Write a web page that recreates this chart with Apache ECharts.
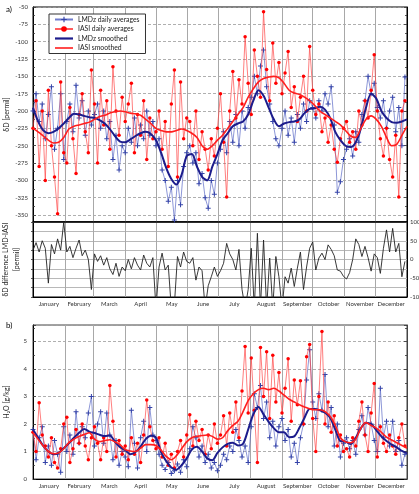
<!DOCTYPE html>
<html><head><meta charset="utf-8">
<script src="https://cdn.jsdelivr.net/npm/echarts@6/dist/echarts.min.js"></script>
<style>html,body{margin:0;padding:0;background:#fff}#c{width:419px;height:494px}</style>
</head><body><div id="c"></div>
<script>
const months = ['January','February','March','April','May','June','July','August','September','October','November','December'];
const monthStarts = [0,31,59,90,120,151,181,212,243,273,304,334,365];
const DAILY_STEP = 3;   // days between daily samples
const SMOOTH_STEP = 5;  // days between smoothed samples

const lmdzDailyA = [
 -200,-175,-215,-190,-240,-205,-165,-255,-225,-175,-270,
 -215,-190,-230,-163,-210,-185,-235,-200,-220,
 -205,-190,-225,-200,-240,-215,-270,-235,-285,-250,
 -260,-225,-245,-210,-250,-220,-240,-200,-235,-215,
 -250,-240,-285,-300,-330,-310,-357,-300,-335,-280,-260,
 -250,-275,-260,-305,-290,-325,-340,-300,-320,-275,
 -255,-230,-260,-215,-245,-205,-250,-200,-225,-195,
 -180,-150,-175,-135,-112,-165,-190,-215,-240,-250,
 -225,-200,-235,-210,-245,-205,-225,-190,-215,-185,
 -195,-210,-185,-200,-175,-190,-165,-220,-317,-302,-270,
 -255,-240,-265,-230,-245,-205,-185,-150,-175,-160,
 -195,-210,-185,-225,-200,-180,-230,-195,-250,-151];
const iasiDailyA = [
 -225,-185,-280,-200,-300,-170,-250,-295,-348,-158,-260,
 -275,-195,-240,-290,-205,-175,-230,-260,-141,
 -190,-275,-170,-220,-185,-255,-136,-200,-235,-180,
 -215,-190,-160,-260,-205,-235,-185,-270,-210,-240,
 -230,-200,-255,-215,-280,-190,-141,-295,-158,-240,-210,
 -215,-250,-200,-270,-230,-255,-285,-240,-265,-225,
 -175,-245,-324,-200,-143,-210,-155,-190,-93,-160,
 -205,-112,-150,-180,-57,-140,-185,-102,-160,-130,
 -175,-145,-114,-195,-165,-215,-180,-150,-200,-107,
 -170,-205,-190,-230,-210,-245,-220,-255,-274,-240,-225,
 -215,-245,-230,-255,-200,-220,-185,-210,-170,-119,
 -200,-240,-265,-225,-270,-295,-235,-324,-200,-185];
const lmdzSmoothA = [
 -195,-215,-228,-232,-230,-225,-218,-210,-204,-205,-207,-209,-210,-213,-218,-226,-236,-244,-245,-241,
 -236,-232,-230,-233,-242,-260,-282,-298,-306,-292,-265,-262,-280,-295,-300,-280,-262,-242,-232,-222,
 -218,-215,-205,-185,-170,-178,-195,-212,-222,-218,-216,-215,-212,-203,-197,-196,-194,-198,-210,-230,
 -242,-250,-252,-245,-225,-195,-175,-182,-200,-210,-216,-217,-215,-212];
const iasiSmoothA = [
 -225,-230,-236,-242,-246,-245,-238,-226,-222,-220,-218,-216,-212,-208,-206,-203,-201,-200,-201,-203,
 -204,-206,-212,-218,-225,-228,-230,-230,-228,-226,-228,-232,-238,-250,-255,-250,-242,-235,-225,-215,
 -205,-195,-180,-168,-158,-153,-151,-150,-152,-160,-170,-174,-176,-180,-185,-192,-200,-205,-210,-215,
 -220,-228,-236,-238,-225,-212,-207,-212,-222,-238,-250,-248,-235,-222];
const diffA = [
 25,45,20,50,30,-63,40,15,55,25,100,
 20,35,5,30,52,10,25,0,-80,
 15,-5,10,-15,5,-25,-40,-10,-45,-20,
 -30,0,-25,5,-15,-28,12,-10,-20,5,
 -130,-20,17,-28,-15,-130,-120,8,-20,20,-5,
 -10,5,-55,-20,-30,-130,-70,-46,-20,-45,
 -30,-10,43,15,0,-28,27,-80,-130,-80,
 30,-130,70,-130,52,-130,4,-130,8,-46,
 -130,-46,-63,-23,-72,-23,20,-80,-20,30,
 47,-28,4,17,0,39,27,10,-28,-31,-45,
 -52,-35,0,55,40,8,35,5,-31,15,
 5,-37,30,79,20,83,20,43,-46,-5];
const lmdzDailyB = [
 1.8,0.7,1.5,1.9,0.6,1.2,0.5,1.4,0.9,0.25,1.9,
 1.0,1.6,0.9,2.45,1.3,1.9,1.5,2.4,3.0,
 1.2,2.0,2.45,1.3,2.4,1.6,0.7,1.4,0.5,1.0,
 0.8,0.45,2.5,1.3,0.4,1.5,2.1,1.0,2.6,1.6,
 1.4,0.9,0.5,0.35,0.6,0.2,0.3,0.55,0.25,0.7,0.45,
 1.1,1.9,1.5,0.8,1.2,0.6,0.9,0.4,0.6,0.3,
 0.5,0.9,0.7,1.2,1.0,1.8,1.4,0.8,1.2,0.6,
 1.9,3.1,2.6,3.4,2.2,2.8,1.5,2.1,1.2,1.9,
 2.2,1.4,1.8,0.8,1.3,0.6,1.5,2.0,3.6,4.7,
 2.8,2.2,3.1,2.5,3.8,1.9,2.6,1.2,2.0,0.8,1.3,
 1.5,1.1,1.4,0.9,1.8,2.3,1.6,2.6,2.0,1.4,
 1.0,3.3,1.5,2.1,1.2,2.1,1.0,1.4,0.5,0.9];
const iasiDailyB = [
 1.7,1.0,2.77,1.6,1.2,0.8,1.5,0.6,0.4,1.1,2.0,
 2.25,0.6,1.1,1.8,1.3,2.0,1.2,0.7,1.5,
 1.9,1.3,0.7,1.5,1.0,3.4,2.1,0.8,1.4,0.9,
 1.2,0.7,1.5,0.9,1.3,0.6,1.6,2.87,1.9,1.4,
 1.1,1.5,0.8,1.3,0.5,0.9,0.4,1.0,1.4,0.8,1.6,
 2.34,1.2,2.1,1.4,1.8,0.9,1.6,1.1,2.0,1.3,
 1.6,2.3,1.2,2.4,1.7,2.8,1.5,3.2,4.82,2.4,
 4.4,2.5,0.6,4.78,3.0,4.63,2.2,4.5,2.8,3.87,
 2.4,3.3,4.37,2.1,3.6,2.7,3.57,2.0,4.45,4.89,
 2.2,1.0,3.0,5.36,2.0,2.8,1.7,2.3,1.2,1.6,1.0,
 1.1,0.8,1.5,1.2,2.1,2.8,1.6,1.0,2.4,3.47,
 0.8,1.9,1.3,1.0,1.6,1.2,0.9,1.5,2.0,1.2];
const lmdzSmoothB = [
 1.8,1.5,1.2,1.0,0.9,0.95,1.12,1.3,1.5,1.68,1.82,1.72,1.67,1.61,1.56,1.58,1.35,1.16,1.05,0.9,
 0.98,1.18,1.45,1.57,1.5,0.98,0.65,0.42,0.34,0.5,0.75,1.07,1.17,1.0,0.75,0.68,0.95,1.15,1.28,1.32,
 1.22,1.28,1.8,2.35,2.62,2.35,2.08,1.85,1.7,1.7,1.52,1.55,1.86,2.23,2.55,2.55,2.5,2.41,2.23,1.8,
 1.38,1.36,1.27,1.5,1.85,2.05,2.0,1.78,1.55,1.38,1.25,1.15,1.02,0.93];
const iasiSmoothB = [
 1.68,1.45,1.2,1.0,0.92,0.95,1.1,1.32,1.45,1.55,1.62,1.68,1.45,1.36,1.4,1.43,1.35,1.25,1.07,1.02,
 1.0,1.12,1.25,1.25,1.22,1.05,0.82,0.7,0.85,1.1,1.35,1.5,1.55,1.58,1.6,1.55,1.45,1.5,1.75,1.95,
 2.1,2.45,2.85,3.1,3.25,3.3,3.25,3.3,3.2,3.05,2.9,2.8,2.7,2.62,2.55,2.52,2.52,2.45,2.28,1.95,
 1.5,1.35,1.32,1.45,1.85,2.05,1.95,1.85,1.7,1.52,1.42,1.32,1.22,1.12];

const mids = monthStarts.slice(0, 12).map((s, i) => (s + monthStarts[i + 1]) / 2);
const pairs = (arr, step) => arr.map((v, i) => [i * step, v]);
const FONT = 'Lato';
const plus = 'path://M4,0H6V4H10V6H6V10H4V6H0V4H4Z';

function xAx(gi, labels, lineW) {
  return {
    type: 'value', gridIndex: gi, min: 0, max: 365,
    axisLine: { show: true, onZero: false, lineStyle: { color: '#000', width: lineW } },
    axisTick: { show: false, customValues: monthStarts },
    splitLine: { show: true, lineStyle: { color: '#a8a8a8', width: 1 } },
    axisLabel: { show: labels, customValues: mids, fontSize: 6, color: '#333', margin: 4, fontFamily: FONT,
      formatter: v => months[mids.indexOf(v)] || '' }
  };
}
const tickStyle = { show: true, inside: true, length: 3, lineStyle: { color: '#333', width: 0.8 } };
const minorStyle = { show: true, splitNumber: 2, length: 2, lineStyle: { color: '#333', width: 0.8 } };
const gridBase = { left: 33, right: 12, show: true, borderWidth: 1, containLabel: false, outerBoundsMode: 'none' };

const option = {
  animation: false,
  backgroundColor: '#fff',
  textStyle: { fontFamily: FONT },
  title: [
    { text: 'a)', left: 1, top: 0, textStyle: { fontSize: 8, fontWeight: 'normal', color: '#000', fontFamily: FONT } },
    { text: 'b)', left: 1, top: 316, textStyle: { fontSize: 8, fontWeight: 'normal', color: '#000', fontFamily: FONT } }
  ],
  legend: {
    data: [
      { name: 'LMDz daily averages' },
      { name: 'IASI daily averages' },
      { name: 'LMDz smoothed', icon: 'path://M0,0H18V2.2H0Z', itemStyle: { color: '#1c1c8c' } },
      { name: 'IASI smoothed', icon: 'path://M0,0H18V1.6H0Z', itemStyle: { color: '#ff1e1e' } }
    ],
    left: 49, top: 14, orient: 'vertical', itemWidth: 18, itemHeight: 7, itemGap: 2.5,
    padding: [2, 6, 2, 5], borderColor: '#333', borderWidth: 1, backgroundColor: '#fff',
    textStyle: { fontSize: 6.8, color: '#222', fontFamily: FONT }
  },
  grid: [
    Object.assign({}, gridBase, { top: 7, height: 215, borderColor: '#000' }),
    Object.assign({}, gridBase, { top: 222, height: 75, borderColor: '#000' }),
    Object.assign({}, gridBase, { top: 325, height: 154, borderColor: '#444' })
  ],
  xAxis: [xAx(0, false, 1.5), xAx(1, true, 1), xAx(2, true, 1)],
  yAxis: [
    { type: 'value', gridIndex: 0, min: -360, max: -50, minInterval: 25, maxInterval: 25, splitNumber: 12,
      name: 'δD [permil]', nameLocation: 'middle', nameGap: 23, nameMoveOverlap: false,
      nameTextStyle: { fontSize: 7, color: '#222', fontFamily: FONT },
      axisLine: { show: true, lineStyle: { color: '#000' } },
      axisTick: tickStyle, minorTick: minorStyle,
      axisLabel: { fontSize: 6, color: '#333', margin: 5, showMinLabel: false, fontFamily: FONT },
      splitLine: { show: true, lineStyle: { color: '#9a9a9a', type: [3, 2], width: 0.8 } } },
    { type: 'value', gridIndex: 0, position: 'right', min: -360, max: -50, minInterval: 25, maxInterval: 25, splitNumber: 12,
      axisLine: { show: true, lineStyle: { color: '#000' } }, axisTick: tickStyle, minorTick: minorStyle,
      axisLabel: { show: false }, splitLine: { show: false } },
    { type: 'value', gridIndex: 1, min: -100, max: 100, interval: 25,
      name: 'δD difference LMD-IASI\n[permil]', nameLocation: 'middle', nameGap: 11, nameMoveOverlap: false,
      nameTextStyle: { fontSize: 7, color: '#222', lineHeight: 11, fontFamily: FONT },
      axisLine: { show: true, lineStyle: { color: '#000' } },
      axisTick: { show: true, length: 2, lineStyle: { color: '#333', width: 0.8 } },
      axisLabel: { show: false }, splitLine: { show: false } },
    { type: 'value', gridIndex: 1, position: 'right', min: -100, max: 100, interval: 25,
      axisLine: { show: true, lineStyle: { color: '#000' } }, axisTick: { show: false },
      axisLabel: { fontSize: 6, color: '#333', margin: 3, fontFamily: FONT,
        formatter: v => (v % 50 === 0 ? String(v) : '') },
      splitLine: { show: true, lineStyle: { color: '#b8b8b8', width: 1 } } },
    { type: 'value', gridIndex: 2, min: 0, max: 5.6, interval: 1,
      name: 'H₂O [g/kg]', nameLocation: 'middle', nameGap: 23, nameMoveOverlap: false,
      nameTextStyle: { fontSize: 7, color: '#222', fontFamily: FONT },
      axisLine: { show: true, lineStyle: { color: '#000' } },
      axisTick: tickStyle, minorTick: minorStyle,
      axisLabel: { fontSize: 6, color: '#333', margin: 6, showMaxLabel: false, fontFamily: FONT },
      splitLine: { show: true, lineStyle: { color: '#9a9a9a', type: [3, 2], width: 0.8 } } },
    { type: 'value', gridIndex: 2, position: 'right', min: 0, max: 5.6, interval: 1,
      axisLine: { show: true, lineStyle: { color: '#444' } }, axisTick: tickStyle, minorTick: minorStyle,
      axisLabel: { show: false }, splitLine: { show: false } }
  ],
  series: []
};

function panelSeries(xi, yi, ld, id, ls, is) {
  return [
    { name: 'LMDz daily averages', type: 'line', xAxisIndex: xi, yAxisIndex: yi, data: pairs(ld, DAILY_STEP),
      symbol: plus, symbolSize: 5, lineStyle: { color: '#4b5bc0', width: 0.8, opacity: 0.8 },
      itemStyle: { color: '#3443a8' }, z: 2 },
    { name: 'IASI daily averages', type: 'line', xAxisIndex: xi, yAxisIndex: yi, data: pairs(id, DAILY_STEP),
      symbol: 'circle', symbolSize: 3.5, lineStyle: { color: '#ff3535', width: 0.8, opacity: 0.8 },
      itemStyle: { color: '#ff0000' }, z: 3 },
    { name: 'LMDz smoothed', type: 'line', xAxisIndex: xi, yAxisIndex: yi, data: pairs(ls, SMOOTH_STEP),
      symbol: 'none', smooth: 0.3, lineStyle: { color: '#1c1c8c', width: 2 }, itemStyle: { color: '#1c1c8c' }, z: 4 },
    { name: 'IASI smoothed', type: 'line', xAxisIndex: xi, yAxisIndex: yi, data: pairs(is, SMOOTH_STEP),
      symbol: 'none', smooth: 0.3, lineStyle: { color: '#ff1e1e', width: 1.6 }, itemStyle: { color: '#ff1e1e' }, z: 4 }
  ];
}
option.series = [
  ...panelSeries(0, 0, lmdzDailyA, iasiDailyA, lmdzSmoothA, iasiSmoothA),
  { type: 'line', xAxisIndex: 1, yAxisIndex: 3, data: pairs(diffA, DAILY_STEP), symbol: 'none',
    lineStyle: { color: '#222', width: 0.9 }, z: 3 },
  ...panelSeries(2, 4, lmdzDailyB, iasiDailyB, lmdzSmoothB, iasiSmoothB)
];

const chart = echarts.init(document.getElementById('c'), null, { renderer: 'canvas' });
chart.setOption(option);
</script></body></html>
